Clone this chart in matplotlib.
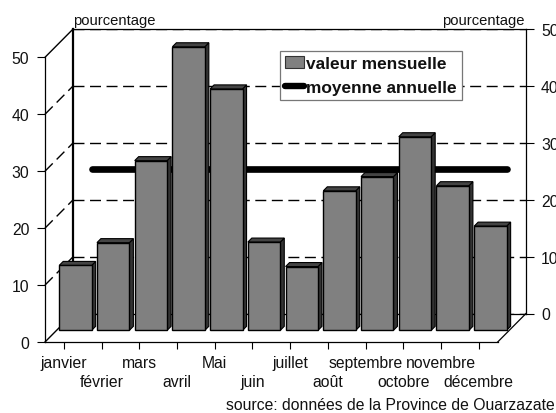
import numpy as np
import matplotlib
matplotlib.use('Agg')
import matplotlib.pyplot as plt
from matplotlib.patches import Polygon, Patch
from matplotlib.lines import Line2D

months = ['janvier', 'février', 'mars', 'avril', 'Mai', 'juin', 'juillet',
          'août', 'septembre', 'octobre', 'novembre', 'décembre']
monthly = [11.4, 15.4, 29.8, 49.8, 42.4, 15.5, 11.2, 24.5, 27.0, 34.0, 25.4, 18.3]
mean_year = 25.4
y_ticks = [0, 10, 20, 30, 40, 50]

W, H = 556, 414
# front plane in pixels, and the shift of the back wall
X0, X1, Y0, Y1 = 45, 497.7, 343, 58.3
DX, DY = 28.3, 28.5
ux = (X1 - X0) / 12
uy = (Y0 - Y1) / 50


def depth(x, v, d):
    return x + d * DX / ux, v + d * DY / uy


plt.rcParams['font.family'] = ['Liberation Sans', 'DejaVu Sans']
plt.rcParams['font.size'] = 11.3
plt.rcParams['text.color'] = '#111111'
plt.rcParams['xtick.labelcolor'] = '#111111'
plt.rcParams['ytick.labelcolor'] = '#111111'

fig = plt.figure(figsize=(W / 100, H / 100), dpi=100)

# back wall
back = fig.add_axes([(X0 + DX) / W, 1 - (Y0 - DY) / H, (X1 - X0) / W, (Y0 - Y1) / H], zorder=1)
back.set_xlim(0, 12)
back.set_ylim(0, 50)
back.set_xticks([])
back.set_yticks(y_ticks)
back.yaxis.tick_right()
back.tick_params(axis='y', length=5.8, width=0.8, pad=5)
back.grid(axis='y', color='black', lw=1.0, linestyle=(0, (7.9, 4)))
for s in back.spines.values():
    s.set_linewidth(0.9)
back.spines['left'].set_linewidth(1.6)

# front plane
ax = fig.add_axes([X0 / W, 1 - Y0 / H, (X1 - X0) / W, (Y0 - Y1) / H], zorder=2)
ax.patch.set_alpha(0)
ax.set_xlim(0, 12)
ax.set_ylim(0, 50)
ax.spines['top'].set_visible(False)
ax.spines['right'].set_visible(False)
ax.spines['left'].set_linewidth(0.9)
ax.spines['bottom'].set_linewidth(0.9)
ax.set_yticks(y_ticks)
ax.tick_params(axis='y', length=5.8, width=0.8, pad=5.5)
x = np.arange(12) + 0.5
ax.set_xticks(x)
ax.set_xticklabels([m if i % 2 == 0 else '\n' + m for i, m in enumerate(months)], linespacing=1.3)
ax.tick_params(axis='x', length=5, width=0.8, pad=4.5)

# side wall and floor edges
for v in y_ticks:
    px, py = depth(0, v, 1)
    style = '-' if v in (0, 50) else (0, (7.9, 4))
    ax.plot([0, px], [v, py], color='black', lw=1.0, linestyle=style, clip_on=False, zorder=1)
px, py = depth(12, 0, 1)
ax.plot([12, px], [0, py], color='black', lw=0.9, clip_on=False, zorder=1)

# annual mean, runs along the back wall
mx, my = depth(x, np.full(12, mean_year), 1)
ax.plot(mx, my, color='black', lw=4.8, solid_capstyle='round', clip_on=False, zorder=2)

# bars
D_FRONT, D_BACK = 0.41, 0.55
bw = 0.86
for xi, v in zip(x, monthly):
    l, r = xi - bw / 2, xi + bw / 2
    front = [depth(l, 0, D_FRONT), depth(r, 0, D_FRONT), depth(r, v, D_FRONT), depth(l, v, D_FRONT)]
    side = [depth(r, 0, D_FRONT), depth(r, 0, D_BACK), depth(r, v, D_BACK), depth(r, v, D_FRONT)]
    top = [depth(l, v, D_FRONT), depth(r, v, D_FRONT), depth(r, v, D_BACK), depth(l, v, D_BACK)]
    ax.add_patch(Polygon(side, facecolor='#333333', edgecolor='black', lw=0.8, clip_on=False, zorder=3))
    ax.add_patch(Polygon(top, facecolor='#444444', edgecolor='black', lw=0.8, clip_on=False, zorder=3))
    ax.add_patch(Polygon(front, facecolor='#808080', edgecolor='black', lw=1.0, clip_on=False, zorder=4))

handles = [Patch(facecolor='#808080', edgecolor='#333333', lw=0.8, label='valeur mensuelle'),
           Line2D([], [], color='black', lw=4.6, solid_capstyle='round', label='moyenne annuelle')]
leg = ax.legend(handles=handles, loc='upper left', bbox_to_anchor=(280 / W, 1 - 52 / H),
                bbox_transform=fig.transFigure, prop={'weight': 'bold', 'size': 12.4},
                frameon=True, fancybox=False, edgecolor='#777777', framealpha=1,
                borderaxespad=0, borderpad=0.3, handlelength=1.1, handletextpad=0.1, labelspacing=0.5)
leg.set_zorder(6)
leg.get_frame().set_linewidth(0.9)

fig.text(73 / W, 1 - 25 / H, 'pourcentage', ha='left', va='baseline', fontsize=10.6)
fig.text(525 / W, 1 - 25 / H, 'pourcentage', ha='right', va='baseline', fontsize=10.6)
fig.text(555 / W, 1 - 410 / H, 'source: données de la Province de Ouarzazate', ha='right', va='baseline')

fig.savefig('out.png', dpi=100)
